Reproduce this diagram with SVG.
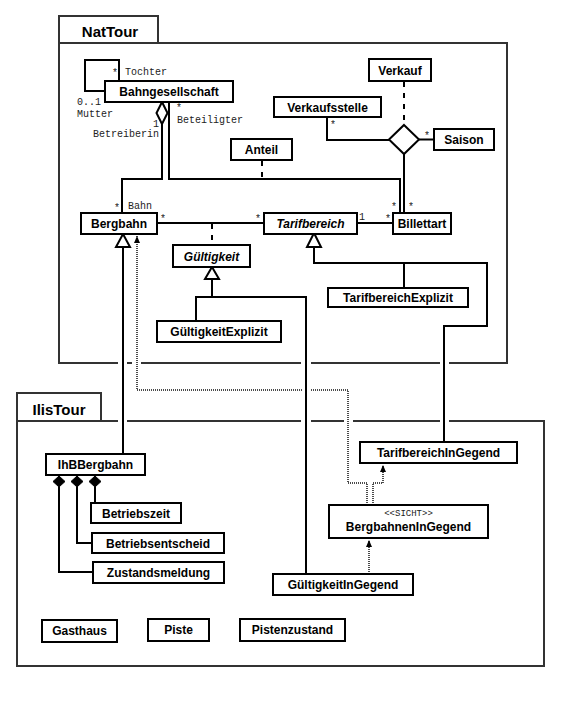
<svg xmlns="http://www.w3.org/2000/svg" width="561" height="705" viewBox="0 0 561 705">
<style>
.frame{fill:none;stroke:#333;stroke-width:2}
.box{fill:#fff;stroke:#000;stroke-width:2}
.t{font-family:"Liberation Sans",Arial,sans-serif;font-weight:bold;font-size:12px;fill:#000;text-anchor:middle}
.i{font-style:italic}
.title{font-family:"Liberation Sans",Arial,sans-serif;font-weight:bold;font-size:15px;fill:#000;text-anchor:middle}
.m{font-family:"Liberation Mono","Courier New",monospace;font-size:10px;fill:#222}
.ln{fill:none;stroke:#000;stroke-width:2}
.dash{fill:none;stroke:#000;stroke-width:2;stroke-dasharray:5,6}
.dot{fill:none;stroke:#111;stroke-width:1.5;stroke-dasharray:1,1}
.gap{fill:#fff;stroke:none}
.hol{fill:#fff;stroke:#000;stroke-width:2}
.fil{fill:#000;stroke:#000;stroke-width:1}
</style>
<defs>
<marker id="dep" markerWidth="8" markerHeight="8" refX="7" refY="4" orient="auto" markerUnits="userSpaceOnUse">
<path d="M0,1 L7,4 L0,7 Z" fill="#000"/>
</marker>
</defs>
<rect width="561" height="705" fill="#fff"/>

<g id="NatTour">
<rect class="frame" x="59" y="16" width="99" height="27"/>
<rect class="frame" x="59" y="43" width="448" height="320"/>
<text class="title" x="110" y="37">NatTour</text>
</g>
<g id="IlisTour">
<rect class="frame" x="17" y="393" width="84" height="28"/>
<rect class="frame" x="17" y="421" width="527" height="245"/>
<text class="title" x="59" y="415">IlisTour</text>
</g>

<g id="crossing-gaps">
<rect class="gap" x="118" y="360" width="9" height="6"/>
<rect class="gap" x="132" y="360" width="9" height="6"/>
<rect class="gap" x="301" y="360" width="10" height="6"/>
<rect class="gap" x="440" y="360" width="9" height="6"/>
<rect class="gap" x="118" y="418" width="9" height="6"/>
<rect class="gap" x="301" y="418" width="10" height="6"/>
<rect class="gap" x="344" y="418" width="9" height="6"/>
<rect class="gap" x="440" y="418" width="9" height="6"/>
</g>

<g id="connectors">
<!-- dotted dependencies -->
<path class="dot" d="M367,505 V483 H348 V390 H310"/>
<path class="dot" d="M302,390 H137 V236" marker-end="url(#dep)"/>
<path class="dot" d="M373,505 V483 H383 V465" marker-end="url(#dep)"/>
<path class="dot" d="M369,574 V540" marker-end="url(#dep)"/>
<!-- dashed association classes -->
<path class="dash" d="M262,161 V179"/>
<path class="dash" d="M404,82 V125"/>
<path class="dash" d="M212,224 V245"/>
<!-- self association -->
<path class="ln" d="M105,91 H85 V60 H119 V81"/>
<!-- Betreiberin aggregation -->
<path class="ln" d="M162,124 V179 H122 V213"/>
<polygon class="hol" points="162,102 167.5,113 162,124 156.5,113"/>
<!-- Beteiligter -->
<path class="ln" d="M169,102 V179 H400 V213"/>
<!-- ternary -->
<path class="ln" d="M327,117 V140 H389"/>
<path class="ln" d="M419,139.5 H434"/>
<path class="ln" d="M404,154 V213"/>
<polygon class="hol" points="404,125 419,139.5 404,154 389,139.5"/>
<!-- Bergbahn - Tarifbereich -->
<path class="ln" d="M157,223 H264"/>
<!-- Tarifbereich - Billettart -->
<path class="ln" d="M357,223 H393"/>
<!-- Gueltigkeit generalization -->
<path class="ln" d="M212,279 V297 M196,321 V297 H306 V574"/>
<polygon class="hol" points="212,267 219,279 205,279"/>
<!-- Tarifbereich generalization -->
<path class="ln" d="M314,247 V263 H487 V326 H444 V442 M404,263 V288"/>
<polygon class="hol" points="314,233 321,247 307,247"/>
<!-- Bergbahn generalization -->
<path class="ln" d="M123,247 V454"/>
<polygon class="hol" points="123,234 130,247 116,247"/>
<!-- compositions -->
<path class="ln" d="M95,487 V503 M77,487 V543 H92 M59,487 V572 H93"/>
<polygon class="fil" points="59,476 65,481.5 59,487 53,481.5"/>
<polygon class="fil" points="77,476 83,481.5 77,487 71,481.5"/>
<polygon class="fil" points="95,476 101,481.5 95,487 89,481.5"/>
<!-- role names and multiplicities -->
<text class="m" x="112" y="76">*</text>
<text class="m" x="125" y="75">Tochter</text>
<text class="m" x="77" y="105">0..1</text>
<text class="m" x="77" y="117">Mutter</text>
<text class="m" x="153" y="127">1</text>
<text class="m" x="93" y="137">Betreiberin</text>
<text class="m" x="176" y="111">*</text>
<text class="m" x="177" y="123">Beteiligter</text>
<text class="m" x="114" y="211">*</text>
<text class="m" x="128" y="209">Bahn</text>
<text class="m" x="160" y="222">*</text>
<text class="m" x="255" y="222">*</text>
<text class="m" x="359" y="220">1</text>
<text class="m" x="385" y="222">*</text>
<text class="m" x="391" y="210">*</text>
<text class="m" x="408" y="210">*</text>
<text class="m" x="330" y="128">*</text>
<text class="m" x="424" y="139">*</text>
</g>

<g id="Bahngesellschaft"><rect class="box" x="105" y="81" width="128" height="21"/><text class="t" x="169" y="96">Bahngesellschaft</text></g>
<g id="Verkauf"><rect class="box" x="369" y="59" width="62" height="22"/><text class="t" x="400" y="75">Verkauf</text></g>
<g id="Verkaufsstelle"><rect class="box" x="274" y="97" width="107" height="20"/><text class="t" x="327.5" y="112">Verkaufsstelle</text></g>
<g id="Saison"><rect class="box" x="434" y="129" width="60" height="21"/><text class="t" x="464" y="144">Saison</text></g>
<g id="Anteil"><rect class="box" x="231" y="139" width="61" height="21"/><text class="t" x="261.5" y="154">Anteil</text></g>
<g id="Bergbahn"><rect class="box" x="81" y="213" width="76" height="21"/><text class="t" x="119" y="228">Bergbahn</text></g>
<g id="Tarifbereich"><rect class="box" x="264" y="213" width="93" height="21"/><text class="t i" x="310.5" y="228">Tarifbereich</text></g>
<g id="Billettart"><rect class="box" x="393" y="213" width="58" height="21"/><text class="t" x="422" y="228">Billettart</text></g>
<g id="Gueltigkeit"><rect class="box" x="173" y="245" width="77" height="22"/><text class="t i" x="211.5" y="260.5">Gültigkeit</text></g>
<g id="GueltigkeitExplizit"><rect class="box" x="157" y="321" width="124" height="21"/><text class="t" x="219" y="336">GültigkeitExplizit</text></g>
<g id="TarifbereichExplizit"><rect class="box" x="328" y="288" width="140" height="19"/><text class="t" x="398" y="302">TarifbereichExplizit</text></g>
<g id="TarifbereichInGegend"><rect class="box" x="360" y="442" width="157" height="21"/><text class="t" x="438.5" y="457">TarifbereichInGegend</text></g>
<g id="BergbahnenInGegend"><rect class="box" x="329" y="505" width="159" height="33"/><text class="m" x="408.5" y="516" text-anchor="middle" style="font-size:9px">&lt;&lt;SICHT&gt;&gt;</text><text class="t" x="408.5" y="531">BergbahnenInGegend</text></g>
<g id="GueltigkeitInGegend"><rect class="box" x="273" y="574" width="140" height="21"/><text class="t" x="343" y="589">GültigkeitInGegend</text></g>
<g id="IhBBergbahn"><rect class="box" x="46" y="454" width="99" height="21"/><text class="t" x="95.5" y="469">IhBBergbahn</text></g>
<g id="Betriebszeit"><rect class="box" x="91" y="503" width="90" height="20"/><text class="t" x="136" y="517.5">Betriebszeit</text></g>
<g id="Betriebsentscheid"><rect class="box" x="92" y="533" width="132" height="20"/><text class="t" x="158" y="547.5">Betriebsentscheid</text></g>
<g id="Zustandsmeldung"><rect class="box" x="93" y="562" width="131" height="21"/><text class="t" x="158.5" y="577">Zustandsmeldung</text></g>
<g id="Gasthaus"><rect class="box" x="42" y="620" width="75" height="22"/><text class="t" x="79.5" y="635">Gasthaus</text></g>
<g id="Piste"><rect class="box" x="148" y="619" width="61" height="22"/><text class="t" x="178.5" y="634">Piste</text></g>
<g id="Pistenzustand"><rect class="box" x="240" y="619" width="105" height="22"/><text class="t" x="292.5" y="634">Pistenzustand</text></g>
</svg>
